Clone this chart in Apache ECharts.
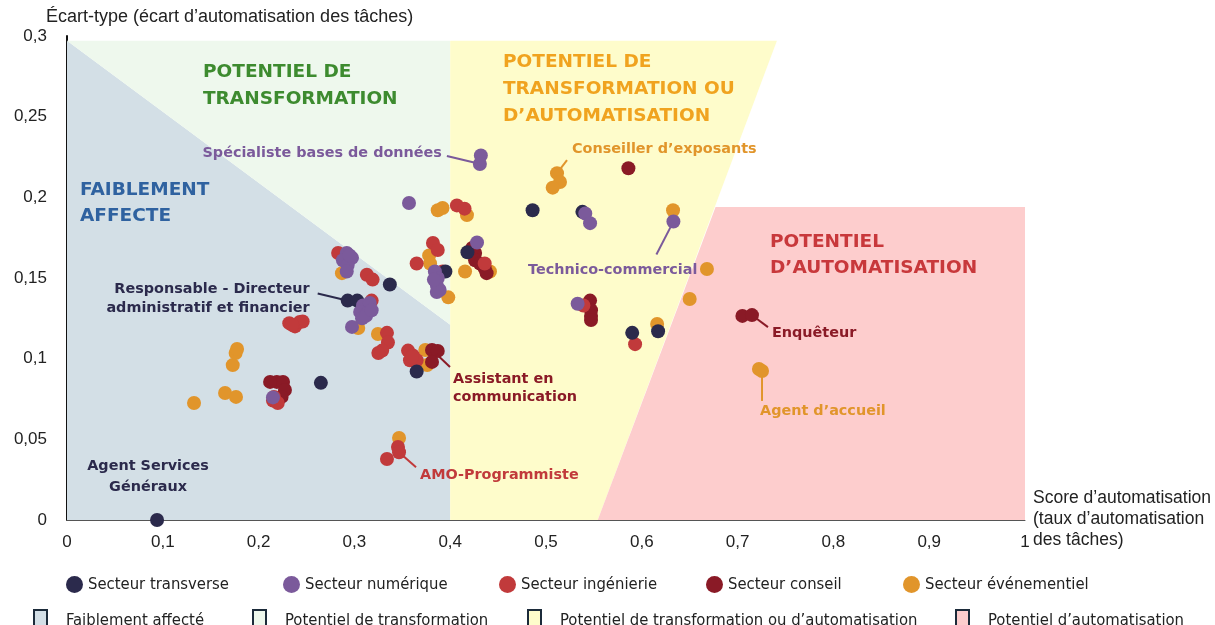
<!DOCTYPE html>
<html>
<head>
<meta charset="utf-8">
<script src="https://cdn.jsdelivr.net/npm/echarts@6/dist/echarts.min.js"></script>
<style>
html,body{margin:0;padding:0;background:#fff}
#main{width:1215px;height:625px}
</style>
</head>
<body>
<div id="main"></div>
<script>
// ---- données (score d'automatisation, écart-type) ----
var transverse = [[0.094,0.000],[0.265,0.085],[0.293,0.136],[0.303,0.136],[0.337,0.146],[0.365,0.092],
  [0.395,0.154],[0.418,0.166],[0.486,0.192],[0.538,0.191],[0.590,0.116],[0.617,0.117]];
var numerique = [[0.292,0.1655],[0.288,0.161],[0.2975,0.1625],[0.293,0.158],[0.292,0.154],[0.295,0.164],
  [0.309,0.133],[0.316,0.1345],[0.306,0.129],[0.313,0.128],[0.308,0.125],[0.312,0.1265],[0.318,0.130],[0.2975,0.1197],
  [0.215,0.076],[0.357,0.1965],[0.384,0.154],[0.387,0.150],[0.386,0.1457],[0.389,0.1426],[0.386,0.1413],[0.383,0.149],
  [0.428,0.172],[0.432,0.226],[0.431,0.2207],[0.541,0.190],[0.546,0.184],[0.633,0.185],[0.533,0.134]];
var ingenierie = [[0.232,0.122],[0.238,0.120],[0.243,0.1228],[0.246,0.123],[0.235,0.121],
  [0.215,0.074],[0.220,0.0725],[0.216,0.0763],[0.283,0.1655],[0.313,0.152],[0.319,0.149],[0.318,0.136],
  [0.334,0.116],[0.335,0.110],[0.329,0.105],[0.325,0.1035],
  [0.356,0.105],[0.361,0.102],[0.358,0.099],[0.365,0.099],[0.360,0.101],
  [0.334,0.0378],[0.3455,0.0453],[0.3466,0.042],
  [0.365,0.159],[0.382,0.1717],[0.387,0.1674],[0.392,0.154],[0.407,0.195],[0.415,0.193],
  [0.436,0.159],[0.539,0.133],[0.593,0.109]];
var conseil = [[0.219,0.0856],[0.2255,0.0856],[0.2275,0.0806],[0.224,0.0763],[0.212,0.0856],
  [0.381,0.1054],[0.387,0.1048],[0.381,0.098],
  [0.426,0.1655],[0.426,0.161],[0.431,0.159],[0.436,0.156],[0.438,0.153],[0.423,0.1686],
  [0.546,0.136],[0.547,0.130],[0.547,0.1265],[0.547,0.124],
  [0.586,0.218],[0.705,0.1265],[0.715,0.127]];
var evenementiel = [[0.1326,0.0725],[0.165,0.0787],[0.1764,0.0763],[0.173,0.096],[0.176,0.1035],[0.1775,0.106],
  [0.287,0.153],[0.304,0.119],[0.3246,0.1153],[0.374,0.1054],[0.376,0.096],[0.3466,0.0508],
  [0.387,0.192],[0.392,0.1934],[0.4175,0.189],[0.378,0.164],[0.379,0.159],[0.398,0.138],
  [0.4155,0.154],[0.4415,0.154],[0.5115,0.215],[0.5146,0.2095],[0.507,0.206],
  [0.6326,0.192],[0.668,0.1556],[0.650,0.137],[0.616,0.1215],[0.7223,0.0936],[0.7255,0.0924]];

// zones (sommets des polygones)
var zoneFaible = [[0,0],[0,0.297],[0.4,0.121],[0.4,0]];
var zoneTransfo = [[0,0.297],[0.4,0.297],[0.4,0.121]];
var zoneMixte = [[0.4,0],[0.4,0.297],[0.741,0.297],[0.554,0]];
var zoneAuto = [[0.554,0],[0.677,0.194],[1,0.194],[1,0]];

var NAVY = '#2b2a4c', PURPLE = '#7b5a9b', RED = '#c13a3b', DARKRED = '#8a1a26', ORANGE = '#e1952b';
var LBL_FONT = 'bold 14.4px "DejaVu Sans", sans-serif';

// étiquettes des métiers
var annotations = [
  {anchor: transverse[0], text: 'Agent Services\nGénéraux', color: NAVY, tx: -9, ty: -64, lh: 21, align: 'center'},
  {anchor: transverse[2], text: 'Responsable - Directeur\nadministratif et financier', color: NAVY, lx: -30, ly: -7, tx: -38, ty: -21, lh: 19, align: 'right'},
  {anchor: numerique[24], text: 'Spécialiste bases de données', color: PURPLE, lx: -33, ly: -8, tx: -38, ty: -20, lh: 19, align: 'right'},
  {anchor: evenementiel[20], text: 'Conseiller d’exposants', color: ORANGE, lx: 10, ly: -13, tx: 15, ty: -33, lh: 19, align: 'left'},
  {anchor: numerique[27], text: 'Technico-commercial', color: PURPLE, lx: -17, ly: 33, tx: 24, ty: 39, lh: 19, align: 'right'},
  {anchor: conseil[20], text: 'Enquêteur', color: DARKRED, lx: 16, ly: 12, tx: 20, ty: 9, lh: 19, align: 'left'},
  {anchor: evenementiel[28], text: 'Agent d’accueil', color: ORANGE, lx: 0, ly: 30, tx: -2, ty: 31, lh: 19, align: 'left'},
  {anchor: conseil[5], text: 'Assistant en\ncommunication', color: DARKRED, lx: 18, ly: 17, tx: 21, ty: 20, lh: 18, align: 'left'},
  {anchor: ingenierie[23], text: 'AMO-Programmiste', color: RED, lx: 17, ly: 15, tx: 21, ty: 14, lh: 19, align: 'left'}
];

var fmt = function (v) { return String(+v.toFixed(2)).replace('.', ','); };

function zoneSeries(name, pts, color) {
  return {
    name: name, type: 'custom', z: 1, silent: true,
    itemStyle: {color: color},
    data: pts,
    renderItem: function (params, api) {
      if (params.dataIndex !== 0) return null;
      return {
        type: 'polygon',
        shape: {points: pts.map(function (p) { return api.coord(p); })},
        style: {fill: color}
      };
    }
  };
}

function dots(name, data, color, z) {
  return {name: name, type: 'scatter', data: data, symbolSize: 14, z: z,
    itemStyle: {color: color, opacity: 1}};
}

var legendText = {fontFamily: '"DejaVu Sans Condensed", "Liberation Sans Narrow", sans-serif', fontSize: 16.5, color: '#222'};
function dotLegend(name, left) {
  return {data: [name], left: left, top: 571, icon: 'circle', itemWidth: 17, itemHeight: 17,
    itemGap: 0, textStyle: legendText, selectedMode: false};
}
function boxLegend(name, left) {
  return {data: [name], left: left, top: 604, icon: 'rect', itemWidth: 13, itemHeight: 21,
    itemStyle: {borderColor: '#1c2b3a', borderWidth: 2},
    textStyle: Object.assign({padding: [0, 0, 0, 14]}, legendText), selectedMode: false};
}

var axisFont = {fontFamily: '"Liberation Sans", Arial, sans-serif', fontSize: 17, color: '#222'};

var option = {
  animation: false,
  backgroundColor: '#fff',
  grid: {left: 67, right: 190, top: 36, bottom: 105},
  xAxis: {
    type: 'value', min: 0, max: 1, interval: 0.1,
    axisLine: {show: true, lineStyle: {color: '#555', width: 1}},
    axisTick: {show: false}, splitLine: {show: false},
    axisLabel: Object.assign({margin: 14, formatter: fmt}, axisFont)
  },
  yAxis: {
    type: 'value', min: 0, max: 0.3, interval: 0.05,
    axisLine: {show: true, onZero: false, lineStyle: {color: '#111', width: 2}},
    axisTick: {show: false}, splitLine: {show: false},
    axisLabel: Object.assign({margin: 20, formatter: fmt}, axisFont)
  },
  legend: [
    dotLegend('Secteur transverse', 61),
    dotLegend('Secteur numérique', 278),
    dotLegend('Secteur ingénierie', 494),
    dotLegend('Secteur conseil', 701),
    dotLegend('Secteur événementiel', 898),
    boxLegend('Faiblement affecté', 28),
    boxLegend('Potentiel de transformation', 247),
    boxLegend('Potentiel de transformation ou d’automatisation', 522),
    boxLegend('Potentiel d’automatisation', 950)
  ],
  series: [
    zoneSeries('Faiblement affecté', zoneFaible, '#d3dfe6'),
    zoneSeries('Potentiel de transformation', zoneTransfo, '#eef8ed'),
    zoneSeries('Potentiel de transformation ou d’automatisation', zoneMixte, '#fefccb'),
    zoneSeries('Potentiel d’automatisation', zoneAuto, '#fdcdcd'),
    dots('Secteur événementiel', evenementiel, ORANGE, 3),
    dots('Secteur conseil', conseil, DARKRED, 4),
    dots('Secteur ingénierie', ingenierie, RED, 5),
    dots('Secteur transverse', transverse, NAVY, 6),
    dots('Secteur numérique', numerique, PURPLE, 7)
  ]
};

var chart = echarts.init(document.getElementById('main'));
chart.setOption(option);

// textes fixes + étiquettes avec traits
var g = [];
function zoneTitle(text, x, y, color, lh) {
  g.push({type: 'text', x: x, y: y, z: 50, silent: true,
    style: {text: text, fill: color, font: 'bold 18.5px "DejaVu Sans", sans-serif', lineHeight: lh, align: 'left', verticalAlign: 'top'}});
}
zoneTitle('POTENTIEL DE\nTRANSFORMATION', 203, 59, '#3d8b2f', 27);
zoneTitle('POTENTIEL DE\nTRANSFORMATION OU\nD’AUTOMATISATION', 503, 49, '#f0a31f', 27);
zoneTitle('FAIBLEMENT\nAFFECTE', 80, 177, '#2f62a0', 26);
zoneTitle('POTENTIEL\nD’AUTOMATISATION', 770, 229, '#c8383b', 26);

var nameFont = '17.5px "Liberation Sans", Arial, sans-serif';
g.push({type: 'text', x: 46, y: 8, silent: true,
  style: {text: 'Écart-type (écart d’automatisation des tâches)', fill: '#222', font: '18px "Liberation Sans", Arial, sans-serif', align: 'left', verticalAlign: 'top'}});
g.push({type: 'text', x: 1033, y: 488, silent: true,
  style: {text: 'Score d’automatisation\n(taux d’automatisation\ndes tâches)', fill: '#222', font: nameFont, lineHeight: 21, align: 'left', verticalAlign: 'top'}});

annotations.forEach(function (a) {
  var p = chart.convertToPixel({gridIndex: 0}, a.anchor);
  if (a.lx != null) {
    var len = Math.sqrt(a.lx * a.lx + a.ly * a.ly);
    var s = 6 / len;
    g.push({type: 'line', z: 40, silent: true,
      shape: {x1: p[0] + a.lx * s, y1: p[1] + a.ly * s, x2: p[0] + a.lx, y2: p[1] + a.ly},
      style: {stroke: a.color, lineWidth: 2}});
  }
  g.push({type: 'text', x: p[0] + a.tx, y: p[1] + a.ty, z: 50, silent: true,
    style: {text: a.text, fill: a.color, font: LBL_FONT, lineHeight: a.lh, align: a.align, verticalAlign: 'top'}});
});

chart.setOption({graphic: g});
</script>
</body>
</html>
